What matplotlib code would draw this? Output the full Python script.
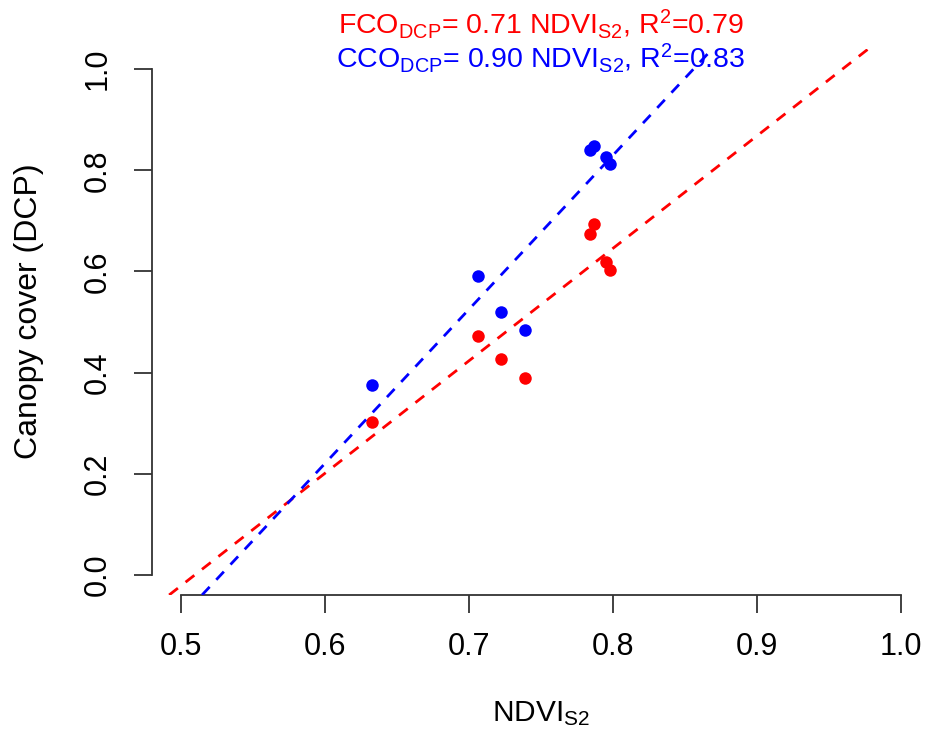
import numpy as np
import matplotlib
matplotlib.use("Agg")
import matplotlib.pyplot as plt

plt.rcParams["font.family"] = ["Liberation Sans", "DejaVu Sans"]
plt.rcParams["mathtext.fontset"] = "custom"
plt.rcParams["mathtext.rm"] = "Liberation Sans"
plt.rcParams["mathtext.it"] = "Liberation Sans:italic"
plt.rcParams["mathtext.bf"] = "Liberation Sans:bold"

# NDVI from Sentinel-2 (same x for both cover types)
ndvi = [0.633, 0.706, 0.722, 0.739, 0.784, 0.787, 0.795, 0.798]
# foliage cover (red) and crown cover (blue) from DCP
fco = [0.302, 0.472, 0.426, 0.390, 0.675, 0.693, 0.619, 0.603]
cco = [0.376, 0.591, 0.519, 0.485, 0.840, 0.848, 0.827, 0.812]

# regression lines as drawn (intercept, slope)
fco_line = (-1.135, 2.226)
cco_line = (-1.610, 3.050)

fco_label = r"FCO$_{\mathrm{DCP}}$= 0.71 NDVI$_{\mathrm{S2}}$, R$^{\mathrm{2}}$=0.79"
cco_label = r"CCO$_{\mathrm{DCP}}$= 0.90 NDVI$_{\mathrm{S2}}$, R$^{\mathrm{2}}$=0.83"

xticks = [0.5, 0.6, 0.7, 0.8, 0.9, 1.0]
yticks = [0.0, 0.2, 0.4, 0.6, 0.8, 1.0]

fig = plt.figure(figsize=(9.25, 7.36), dpi=100)
ax = fig.add_axes([0.1643, 0.1916, 0.8411, 0.7418])

ax.scatter(ndvi, fco, s=81, color="#FF0000", linewidths=0, zorder=3)
ax.scatter(ndvi, cco, s=81, color="#0000FF", linewidths=0, zorder=3)

ax.axline((0, fco_line[0]), slope=fco_line[1], color="#FF0000", lw=2,
          dashes=(4, 3.5), zorder=4)
ax.axline((0, cco_line[0]), slope=cco_line[1], color="#0000FF", lw=2,
          dashes=(4, 3.5), zorder=4)

ax.set_xlim(0.48, 1.02)
ax.set_ylim(-0.04, 1.04)

# R style axes
for s in ["top", "right"]:
    ax.spines[s].set_visible(False)
ax.spines["bottom"].set_bounds(xticks[0], xticks[-1])
ax.spines["left"].set_bounds(yticks[0], yticks[-1])
for s in ["bottom", "left"]:
    ax.spines[s].set_color("#333333")
    ax.spines[s].set_linewidth(1.3)

ax.set_xticks(xticks)
ax.set_xticklabels([f"{v:.1f}" for v in xticks])
ax.set_yticks(yticks)
ax.set_yticklabels([f"{v:.1f}" for v in yticks], rotation=90, va="center")
ax.tick_params(axis="both", length=13, width=1.3, color="#333333", labelsize=22)
ax.tick_params(axis="x", pad=14)
ax.tick_params(axis="y", pad=15)

ax.set_xlabel(r"NDVI$_{\mathrm{S2}}$", fontsize=21.5)
ax.xaxis.set_label_coords(0.5, -0.19)
ax.set_ylabel("Canopy cover (DCP)", fontsize=23)
ax.yaxis.set_label_coords(-0.139, 0.52)

ax.text(0.5, 1.028, fco_label, transform=ax.transAxes, ha="center",
        va="baseline", fontsize=20.5, color="#FF0000", clip_on=False)
ax.text(0.5, 0.966, cco_label, transform=ax.transAxes, ha="center",
        va="baseline", fontsize=20.5, color="#0000FF", clip_on=False)

fig.savefig("out.png", dpi=100)
